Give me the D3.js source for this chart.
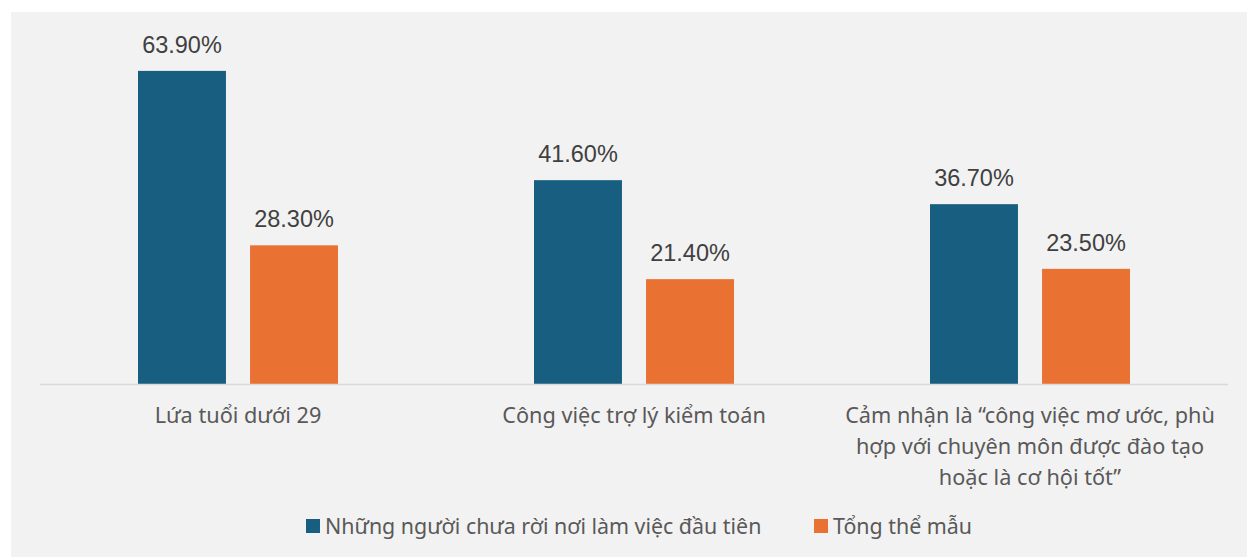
<!DOCTYPE html>
<html>
  <head>
    <meta charset="utf-8">
    <title>Bar chart</title>
    <script src="https://d3js.org/d3.v7.min.js"></script>
    <style>
      body { margin: 0; background: white; }
      .value { font-family: "Liberation Sans", Arial, sans-serif; font-size: 23.5px; fill: #404040; }
      .cat { font-family: "Noto Sans", sans-serif; font-size: 21.7px; fill: #595959; }
      .leg { font-family: "Noto Sans", sans-serif; font-size: 21.4px; fill: #595959; }
    </style>
  </head>
  <body>
    <script>
      let width = 1248, height = 558;

      let categories = [
        ["Lứa tuổi dưới 29"],
        ["Công việc trợ lý kiểm toán"],
        ["Cảm nhận là “công việc mơ ước, phù", "hợp với chuyên môn được đào tạo", "hoặc là cơ hội tốt”"]
      ];
      let seriesNames = ["Những người chưa rời nơi làm việc đầu tiên", "Tổng thể mẫu"];
      let firstJob = [63.9, 41.6, 36.7];
      let wholeSample = [28.3, 21.4, 23.5];
      let colors = ["#175e80", "#e97132"];

      let margin = { left: 40, right: 20, top: 12, bottom: 174 };

      let svg = d3.select("body").append("svg")
                  .attr("width", width)
                  .attr("height", height);

      svg.append("rect")
         .attr("x", 11).attr("y", 12)
         .attr("width", width - 12).attr("height", height - 13)
         .attr("fill", "#f2f2f2");

      let x0 = d3.scaleBand()
                 .domain(d3.range(categories.length))
                 .range([margin.left, width - margin.right])
                 .paddingInner(0).paddingOuter(0);

      let x1 = d3.scaleBand()
                 .domain([0, 1])
                 .range([98, x0.bandwidth() - 98])
                 .paddingInner(0.215);

      let y = d3.scaleLinear()
                .domain([0, 70])
                .range([height - margin.bottom, height - margin.bottom - 343]);

      let groups = svg.selectAll("g.group")
                      .data(categories.map((c, i) => ({ i: i, values: [firstJob[i], wholeSample[i]] })))
                      .enter().append("g")
                      .attr("class", "group")
                      .attr("transform", d => `translate(${x0(d.i)},0)`);

      groups.selectAll("rect")
            .data(d => d.values)
            .enter().append("rect")
            .attr("x", (d, j) => x1(j))
            .attr("width", x1.bandwidth())
            .attr("y", d => y(d))
            .attr("height", d => y(0) - y(d))
            .attr("fill", (d, j) => colors[j]);

      groups.selectAll("text.value")
            .data(d => d.values)
            .enter().append("text")
            .attr("class", "value")
            .attr("x", (d, j) => x1(j) + x1.bandwidth() / 2)
            .attr("y", d => y(d) - 18)
            .attr("text-anchor", "middle")
            .text(d => d.toFixed(2) + "%");

      // baseline
      svg.append("line")
         .attr("x1", margin.left).attr("x2", width - margin.right)
         .attr("y1", y(0) + 0.5).attr("y2", y(0) + 0.5)
         .attr("stroke", "#d9d9d9")
         .attr("stroke-width", 1.5);

      // category labels
      categories.forEach(function(lines, i) {
        let t = svg.append("text")
                   .attr("class", "cat")
                   .attr("text-anchor", "middle")
                   .attr("x", x0(i) + x0.bandwidth() / 2)
                   .attr("y", y(0) + 39);
        lines.forEach(function(l, k) {
          t.append("tspan")
           .attr("x", x0(i) + x0.bandwidth() / 2)
           .attr("dy", k == 0 ? 0 : 31)
           .text(l);
        });
      });

      // legend
      let legX = [306, 814];
      seriesNames.forEach(function(name, j) {
        svg.append("rect")
           .attr("x", legX[j]).attr("y", 519)
           .attr("width", 14).attr("height", 14)
           .attr("fill", colors[j]);
        svg.append("text")
           .attr("class", "leg")
           .attr("x", legX[j] + 19)
           .attr("y", 534)
           .text(name);
      });
    </script>
  </body>
</html>
